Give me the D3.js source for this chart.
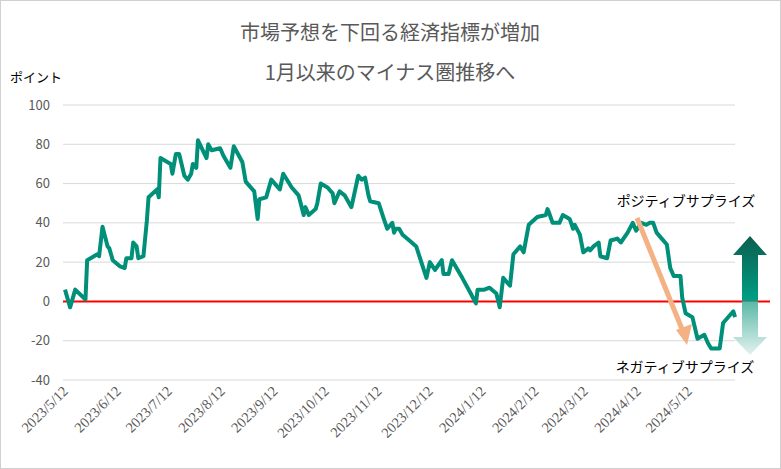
<!DOCTYPE html>
<html><head><meta charset="utf-8">
<script src="https://cdn.jsdelivr.net/npm/d3@7"></script>
<style>body{margin:0;background:#fff;font-family:"Noto Sans CJK JP","Noto Sans",sans-serif}</style>
</head><body>
<svg id="chart"></svg>
<script>
const width = 781, height = 469;

// data: days since 2023/5/12 and index value
const startDate = new Date(2023, 4, 12);
const days = [0,3,6,12,13,19,20,22,25,26,28,32,35,36,39,40,42,43,46,48,49,54,55,56,62,63,65,67,70,72,74,75,77,78,83,84,86,91,93,97,99,104,106,107,111,113,114,118,121,126,128,133,137,140,141,143,147,148,150,154,157,158,161,164,168,172,174,176,178,179,184,187,189,192,193,194,196,198,202,206,212,214,217,221,222,225,227,233,238,241,242,246,249,253,255,257,261,263,267,269,272,277,282,283,284,286,290,292,296,298,299,302,304,307,308,310,313,314,318,320,324,326,330,333,335,338,341,343,345,347,350,353,355,357,361,362,364,368,371,375,377,379,384,386,392,393];
const values = [6,-3,6,1,21,24,23,38,28,27,21,18,17,22,22,30,28,22,23,41,53,57,53,73,70,65,75,75,64,62,65,70,68,82,73,80,77,78,74,68,79,71,61,60,56,42,52,53,62,57,65,58,54,44,48,44,47,50,60,58,55,50,56,54,48,64,62,63,54,51,50,42,37,40,35,37,37,34,31,28,12,20,16,21,14,14,21,12,4,-1,6,6,7,4,-3,12,8,24,28,25,39,43,44,47,45,40,40,44,42,37,39,34,25,27,26,28,30,23,22,31,32,30,35,40,36,40,39,40,40,35,32,29,17,13,13,2,-6,-8,-19,-17,-21,-24,-24,-11,-5,-8];
const yTicks = [-40,-20,0,20,40,60,80,100];
const monthTicks = d3.range(0, 13).map(i => new Date(2023, 4 + i, 12));
const titleLines = ["市場予想を下回る経済指標が増加", "1月以来のマイナス圏推移へ"];

const svg = d3.select("#chart").attr("width", width).attr("height", height);
svg.append("rect").attr("x", 0.5).attr("y", 0.5).attr("width", width - 1).attr("height", height - 1)
  .attr("fill", "#fff").attr("stroke", "#d0d0d0");

const x = d3.scaleTime().domain([startDate, d3.timeDay.offset(startDate, 366)]).range([65, 689]);
const y = d3.scaleLinear().domain([-40, 100]).range([380, 105]);

// grid
svg.append("g").selectAll("line").data(yTicks).enter().append("line")
  .attr("x1", 63).attr("x2", 735).attr("y1", d => y(d)).attr("y2", d => y(d))
  .attr("stroke", "#d9d9d9").attr("stroke-width", 1);

svg.append("g").selectAll("text").data(yTicks).enter().append("text")
  .attr("x", 50).attr("y", d => y(d)).attr("dy", "0.35em").attr("text-anchor", "end")
  .attr("font-size", 13).attr("fill", "#595959").text(d => d);

// x labels
svg.append("g").selectAll("text").data(monthTicks).enter().append("text")
  .attr("transform", d => `translate(${x(d) + 4},${392}) rotate(-45)`)
  .attr("text-anchor", "end").attr("font-size", 14.5).attr("fill", "#595959")
  .attr("font-family", "Liberation Serif, serif")
  .text(d3.timeFormat("%Y/%-m/%-d"));

// zero line
svg.append("line").attr("x1", 63).attr("x2", 770).attr("y1", y(0)).attr("y2", y(0))
  .attr("stroke", "#ff0000").attr("stroke-width", 2);

const series = days.map((d, i) => ({ date: d3.timeDay.offset(startDate, d), v: values[i] }));
svg.append("path").datum(series)
  .attr("fill", "none").attr("stroke", "#009079").attr("stroke-width", 4).attr("stroke-linejoin", "round")
  .attr("d", d3.line().x(d => x(d.date)).y(d => y(d.v)));

// titles
svg.selectAll(".title").data(titleLines).enter().append("text")
  .attr("x", 390).attr("y", (d, i) => 40 + i * 40).attr("text-anchor", "middle")
  .attr("font-size", 20).attr("fill", "#595959").text(d => d);
svg.append("text").attr("x", 10).attr("y", 82).attr("font-size", 13).attr("fill", "#000").text("ポイント");

// gradients for big arrow
const defs = svg.append("defs");
const gUp = defs.append("linearGradient").attr("id", "gUp").attr("x1", 0).attr("y1", 0).attr("x2", 0).attr("y2", 1);
gUp.append("stop").attr("offset", "0%").attr("stop-color", "#0b5e4e");
gUp.append("stop").attr("offset", "100%").attr("stop-color", "#00a086");
const gDn = defs.append("linearGradient").attr("id", "gDn").attr("x1", 0).attr("y1", 0).attr("x2", 0).attr("y2", 1);
gDn.append("stop").attr("offset", "0%").attr("stop-color", "#5ab9a6");
gDn.append("stop").attr("offset", "100%").attr("stop-color", "#e4f2ef");

const ax = 750, y0 = y(0);
svg.append("path").attr("fill", "url(#gUp)")
  .attr("d", `M${ax - 8},${y0} L${ax - 8},255 L${ax - 17},255 L${ax},236 L${ax + 17},255 L${ax + 8},255 L${ax + 8},${y0} Z`);
svg.append("path").attr("fill", "url(#gDn)")
  .attr("d", `M${ax - 8},${y0} L${ax - 8},337 L${ax - 17},337 L${ax},355 L${ax + 17},337 L${ax + 8},337 L${ax + 8},${y0} Z`);

// orange arrow
svg.append("line").attr("x1", 637).attr("y1", 218).attr("x2", 684).attr("y2", 334)
  .attr("stroke", "#f4b183").attr("stroke-width", 5);
svg.append("path").attr("fill", "#f4b183")
  .attr("d", "M676,330 L692,324 L687,345 Z");

svg.append("text").attr("x", 686).attr("y", 206).attr("text-anchor", "middle").attr("font-size", 14).text("ポジティブサプライズ");
svg.append("text").attr("x", 685).attr("y", 372).attr("text-anchor", "middle").attr("font-size", 14).text("ネガティブサプライズ");
</script>
</body></html>
